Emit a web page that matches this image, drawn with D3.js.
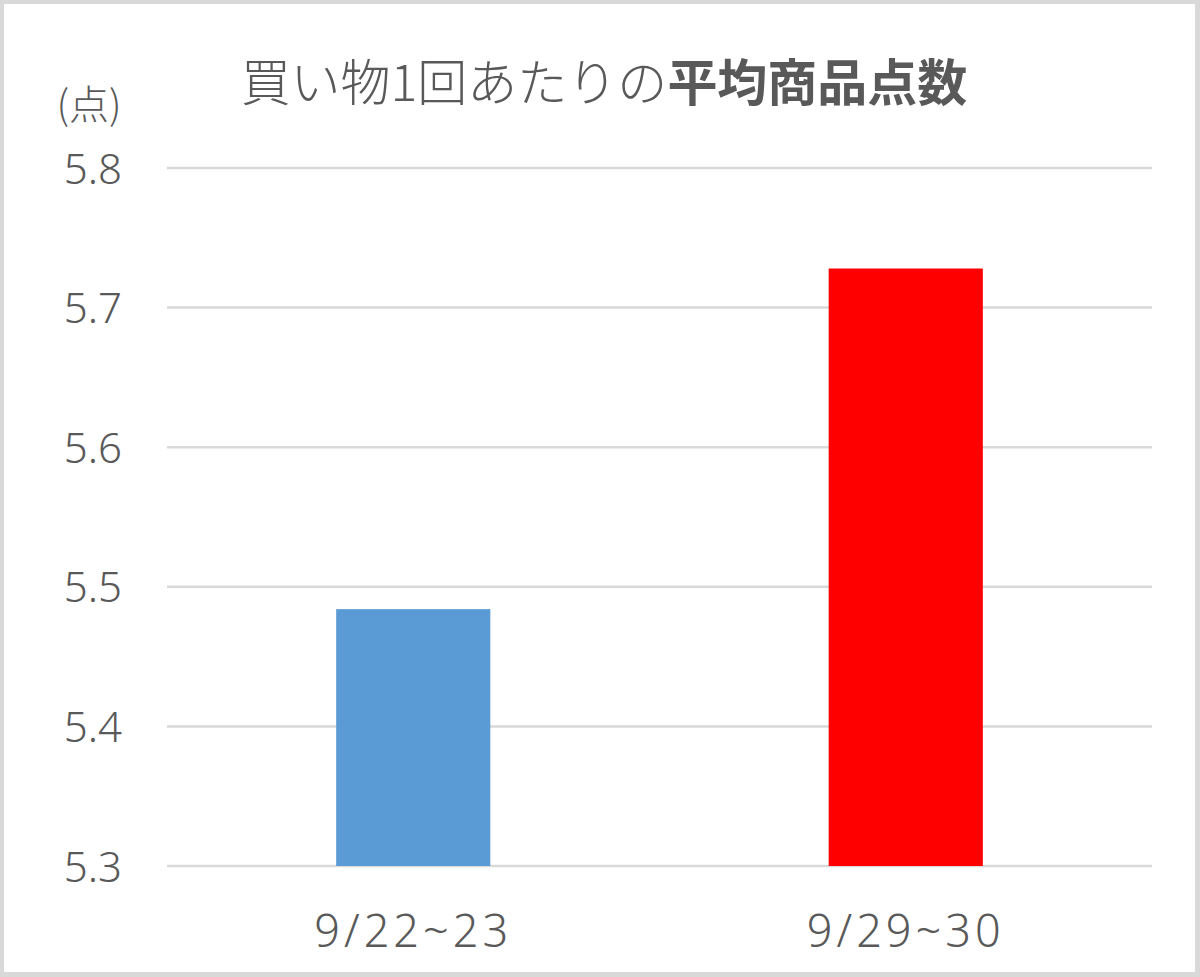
<!DOCTYPE html>
<html><head><meta charset="utf-8">
<script src="https://cdn.jsdelivr.net/npm/d3@7"></script>
<style>html,body{margin:0;padding:0;background:#d9d9d9;}svg{display:block;}</style>
</head><body>
<script>
const categories = ["9/22~23", "9/29~30"];
const values = [5.484, 5.728];
const colors = ["#5b9bd5", "#ff0000"];
const yTicks = [5.3, 5.4, 5.5, 5.6, 5.7, 5.8];
const titleNormal = "買い物1回あたりの";
const titleBold = "平均商品点数";
const unitLabel = "(点)";

(function () {
const W = 1200, H = 977;
const svg = d3.select("body").append("svg").attr("width", W).attr("height", H);
svg.append("rect").attr("width", W).attr("height", H).attr("fill", "#d9d9d9");
svg.append("rect").attr("x", 4).attr("y", 4).attr("width", 1191).attr("height", 968).attr("fill", "#fff");

const font = "'Noto Sans', 'Noto Sans CJK JP', sans-serif";
const textColor = "#595959";
const pl = 167, pr = 1152, pt = 168, pb = 866;

const x = d3.scaleBand().domain(categories).range([pl, pr]).paddingInner(0.687).paddingOuter(0.3435);
const y = d3.scaleLinear().domain([5.3, 5.8]).range([pb, pt]);

// gridlines
svg.append("g").selectAll("line").data(yTicks).join("line")
  .attr("x1", pl).attr("x2", pr)
  .attr("y1", d => y(d)).attr("y2", d => y(d))
  .attr("stroke", "#d9d9d9").attr("stroke-width", 2.5);

// y axis labels
const yAxis = d3.axisLeft(y).tickValues(yTicks).tickFormat(d3.format(".1f")).tickSize(0).tickPadding(0);
const ya = svg.append("g").attr("transform", `translate(122,0)`).call(yAxis);
ya.select(".domain").remove();
ya.selectAll("text").attr("font-family", font).attr("font-weight", 300).attr("font-size", 42)
  .attr("fill", textColor).attr("dy", "0.36em");

// bars
svg.append("g").selectAll("rect").data(values).join("rect")
  .attr("x", (d, i) => x(categories[i]))
  .attr("width", x.bandwidth())
  .attr("y", d => y(d))
  .attr("height", d => y(5.3) - y(d))
  .attr("fill", (d, i) => colors[i]);

// x axis labels
const xAxis = d3.axisBottom(x).tickSize(0).tickPadding(0);
const xa = svg.append("g").attr("transform", `translate(0,947)`).call(xAxis);
xa.select(".domain").remove();
xa.selectAll("text").attr("font-family", font).attr("font-weight", 300).attr("font-size", 45)
  .attr("letter-spacing", 4).attr("fill", textColor).attr("dy", 0);

// title
const t = svg.append("text").attr("x", 604).attr("y", 101).attr("text-anchor", "middle")
  .attr("font-family", "'Noto Sans CJK JP', sans-serif").attr("font-size", 50).attr("fill", textColor);
t.append("tspan").text(titleNormal).attr("font-weight", 300);
t.append("tspan").text(titleBold).attr("font-weight", 700);

// unit label
svg.append("text").attr("x", 89).attr("y", 119).attr("text-anchor", "middle")
  .attr("font-family", "'Noto Sans CJK JP', sans-serif").attr("font-weight", 300).attr("font-size", 40).attr("fill", textColor)
  .text(unitLabel);
})();
</script>
</body></html>
